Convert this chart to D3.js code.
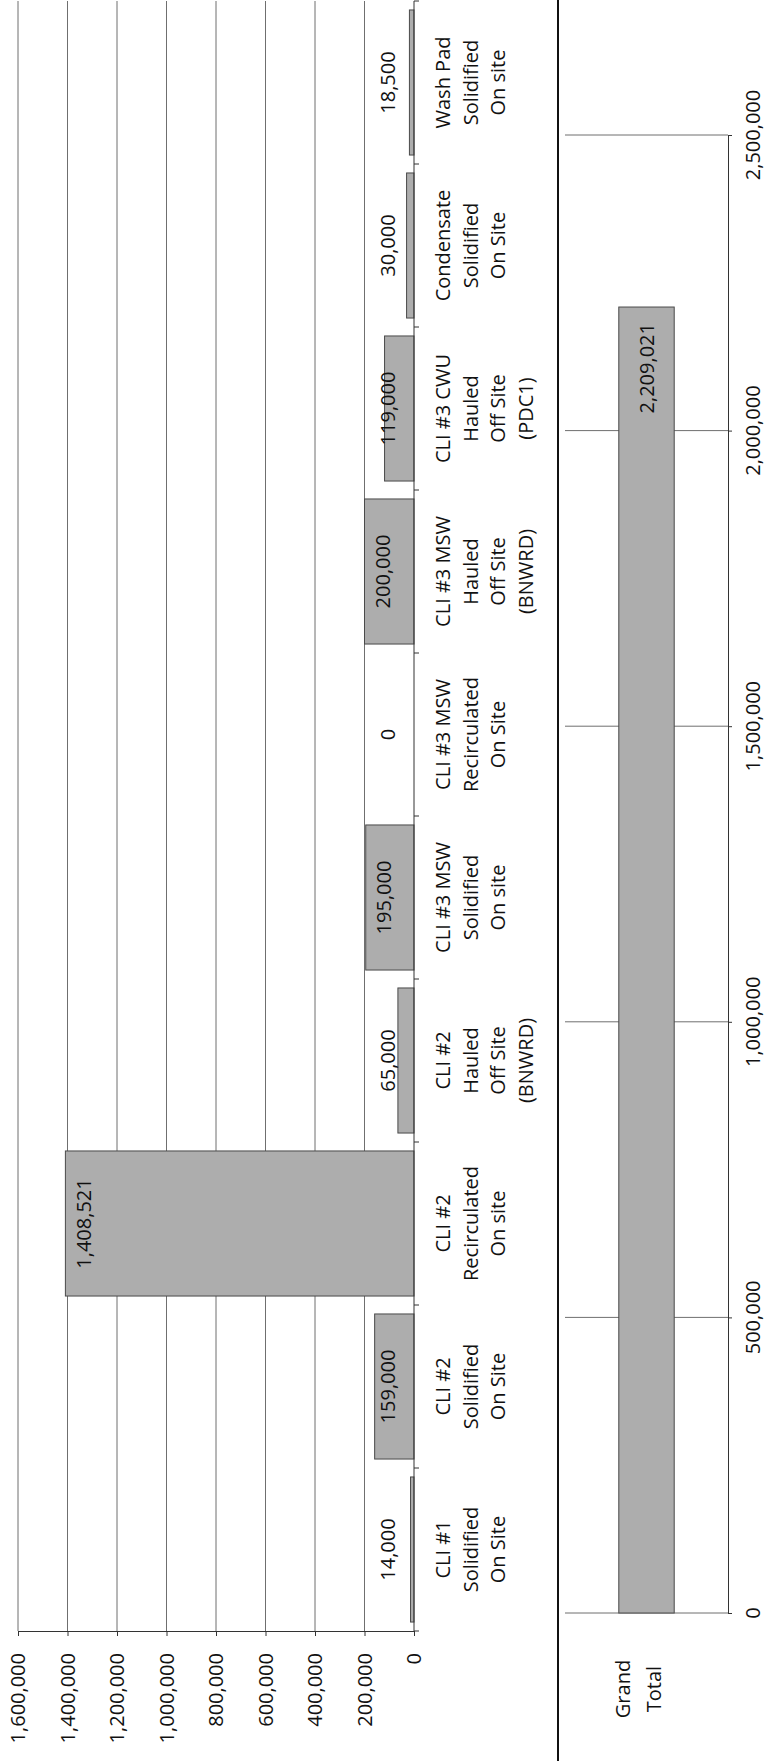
<!DOCTYPE html>
<html lang="en">
<head>
<meta charset="UTF-8">
<title>Volumes by disposition</title>
<script src="https://cdn.jsdelivr.net/npm/d3@7"></script>
<style>
  body { margin: 0; background: #fff; }
  svg { display: block; font-family: "Open Sans", "DejaVu Sans", sans-serif; }
  .lbl { fill: #111; font-size: 20px; }
  .grid line { stroke: #6f6f6f; stroke-width: 1; }
  .bar { fill: #adadad; stroke: #4a4a4a; stroke-width: 1; }
</style>
</head>
<body>
<svg id="chart" width="766" height="1761"></svg>
<script>
// categories (label lines), bottom to top
const categories = [
  ['CLI #1', 'Solidified', 'On Site'],
  ['CLI #2', 'Solidified', 'On Site'],
  ['CLI #2', 'Recirculated', 'On site'],
  ['CLI #2', 'Hauled', 'Off Site', '(BNWRD)'],
  ['CLI #3 MSW', 'Solidified', 'On site'],
  ['CLI #3 MSW', 'Recirculated', 'On Site'],
  ['CLI #3 MSW', 'Hauled', 'Off Site', '(BNWRD)'],
  ['CLI #3 CWU', 'Hauled', 'Off Site', '(PDC1)'],
  ['Condensate', 'Solidified', 'On Site'],
  ['Wash Pad', 'Solidified', 'On site']
];
const values = [14000, 159000, 1408521, 65000, 195000, 0, 200000, 119000, 30000, 18500];

const totalCategory = ['Grand', 'Total'];
const totalValues = [2209021];

const topTicks = [0, 200000, 400000, 600000, 800000, 1000000, 1200000, 1400000, 1600000];
const bottomTicks = [0, 500000, 1000000, 1500000, 2000000, 2500000];

const fmt = d3.format(',');
const svg = d3.select('#chart');

// ---------- upper chart (rotated column chart) ----------
const xTop = d3.scaleLinear().domain([0, 1600000]).range([414, 18]);
const yTop = d3.scaleBand()
  .domain(d3.range(categories.length))
  .range([1631, 1])
  .paddingInner(0.11)
  .paddingOuter(0.055);
const step = yTop.step();

// gridlines
svg.append('g').attr('class', 'grid')
  .selectAll('line')
  .data(topTicks.filter(d => d > 0))
  .join('line')
  .attr('x1', d => xTop(d)).attr('x2', d => xTop(d))
  .attr('y1', 1).attr('y2', 1631);

// value axis (horizontal line at the bottom)
svg.append('g')
  .attr('transform', 'translate(0,1631)')
  .call(d3.axisBottom(xTop).tickValues(topTicks).tickSize(5).tickFormat(''))
  .call(g => g.selectAll('line, path').attr('stroke', '#333'));

svg.append('g')
  .selectAll('text')
  .data(topTicks)
  .join('text')
  .attr('class', 'lbl')
  .attr('transform', d => `translate(${xTop(d)},1653) rotate(-90)`)
  .attr('text-anchor', 'end')
  .attr('dy', '0.36em')
  .text(d => fmt(d));

// bars
svg.append('g')
  .selectAll('rect')
  .data(values)
  .join('rect')
  .attr('class', 'bar')
  .attr('x', d => xTop(d))
  .attr('y', (d, i) => yTop(i))
  .attr('width', d => xTop(0) - xTop(d))
  .attr('height', yTop.bandwidth())
  .style('display', d => d > 0 ? null : 'none');

// category axis (vertical line at zero)
const boundaries = d3.range(categories.length + 1).map(i => 1631 - i * step);
svg.append('line')
  .attr('x1', xTop(0)).attr('x2', xTop(0))
  .attr('y1', 1).attr('y2', 1631)
  .attr('stroke', '#333');
svg.append('g')
  .selectAll('line')
  .data(boundaries)
  .join('line')
  .attr('x1', xTop(0)).attr('x2', xTop(0) + 5)
  .attr('y1', d => d).attr('y2', d => d)
  .attr('stroke', '#333');

// value labels
svg.append('g')
  .selectAll('text')
  .data(values)
  .join('text')
  .attr('class', 'lbl')
  .attr('transform', (d, i) => {
    const cx = Math.min(388, xTop(d) + 18);
    const cy = yTop(i) + yTop.bandwidth() / 2;
    return `translate(${cx},${cy}) rotate(-90)`;
  })
  .attr('text-anchor', 'middle')
  .attr('dy', '0.36em')
  .text(d => fmt(d));

// category labels
const catG = svg.append('g')
  .selectAll('text')
  .data(categories)
  .join('text')
  .attr('class', 'lbl')
  .attr('text-anchor', 'middle')
  .attr('transform', (d, i) => `translate(443,${yTop(i) + yTop.bandwidth() / 2}) rotate(-90)`);
catG.selectAll('tspan')
  .data(d => d)
  .join('tspan')
  .attr('x', 0)
  .attr('y', (d, j) => j * 27.5)
  .attr('dy', '0.36em')
  .text(d => d);

// separator line
svg.append('line')
  .attr('x1', 558).attr('x2', 558)
  .attr('y1', 0).attr('y2', 1761)
  .attr('stroke', '#111').attr('stroke-width', 2);

// ---------- lower chart (grand total) ----------
const yBot = d3.scaleLinear().domain([0, 2500000]).range([1613, 135]);
const xBot = d3.scaleBand().domain([0]).range([565, 728]).paddingInner(0.66).paddingOuter(0.33);

svg.append('g').attr('class', 'grid')
  .selectAll('line')
  .data(bottomTicks)
  .join('line')
  .attr('x1', 565).attr('x2', 728)
  .attr('y1', d => yBot(d)).attr('y2', d => yBot(d));

svg.append('g')
  .attr('transform', 'translate(728,0)')
  .call(d3.axisRight(yBot).tickValues(bottomTicks).tickSize(4).tickFormat(''))
  .call(g => g.selectAll('line, path').attr('stroke', '#333'));

svg.append('g')
  .selectAll('text')
  .data(bottomTicks)
  .join('text')
  .attr('class', 'lbl')
  .attr('transform', d => `translate(753,${yBot(d)}) rotate(-90)`)
  .attr('text-anchor', 'middle')
  .attr('dy', '0.36em')
  .text(d => fmt(d));

svg.append('g')
  .selectAll('rect')
  .data(totalValues)
  .join('rect')
  .attr('class', 'bar')
  .attr('x', (d, i) => xBot(i))
  .attr('width', xBot.bandwidth())
  .attr('y', d => yBot(d))
  .attr('height', d => yBot(0) - yBot(d));

svg.append('g')
  .selectAll('text')
  .data(totalValues)
  .join('text')
  .attr('class', 'lbl')
  .attr('transform', (d, i) => `translate(${xBot(i) + xBot.bandwidth() / 2},${yBot(d) + 16}) rotate(-90)`)
  .attr('text-anchor', 'end')
  .attr('dy', '0.36em')
  .text(d => fmt(d));

const totG = svg.append('text')
  .attr('class', 'lbl')
  .attr('text-anchor', 'middle')
  .attr('transform', 'translate(623,1689) rotate(-90)');
totG.selectAll('tspan')
  .data(totalCategory)
  .join('tspan')
  .attr('x', 0)
  .attr('y', (d, j) => j * 31)
  .attr('dy', '0.36em')
  .text(d => d);
</script>
</body>
</html>
